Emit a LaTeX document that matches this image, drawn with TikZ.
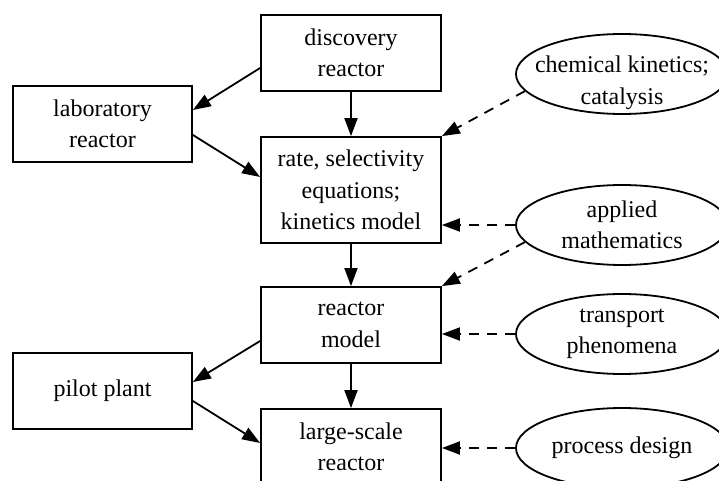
\documentclass[tikz,border=0pt]{standalone}
\usepackage{fontspec}
\setmainfont{Liberation Serif}
\usetikzlibrary{arrows.meta,calc,shapes.geometric}
\begin{document}
\begin{tikzpicture}[x=0.5pt,y=-0.5pt,
  every node/.style={font=\rmfamily\fontsize{12}{15.75}\selectfont, align=center, inner sep=0pt, line width=0.9pt},
  box/.style={draw, rectangle, minimum width=90pt},
  oval/.style={draw, ellipse, minimum width=106pt, minimum height=40pt},
  arr/.style={line width=0.9pt, -{Triangle[length=9pt,width=6.5pt]}},
  darr/.style={arr, dash pattern=on 5pt off 4pt}]
\useasboundingbox (0,0) rectangle (719,481);
\clip (0,0) rectangle (719,481);
\node[box, minimum height=38pt] (disc) at (351,53) {discovery\\reactor};
\node[box, minimum height=38pt, minimum width=89.5pt] (lab) at (102.5,124) {laboratory\\reactor};
\node[box, minimum height=53pt] (rate) at (351,190) {rate, selectivity\\equations;\\kinetics model};
\node[box, minimum height=38pt] (model) at (351,325) {reactor\\model};
\node[box, minimum height=38pt, minimum width=89.5pt] (pilot) at (102.5,391) {pilot plant};
\node[box, minimum height=38pt] (large) at (351,447) {large-scale\\reactor};
\node[oval, inner xsep=-7pt, inner ysep=-6pt] (chem) at (622,74) {\rule{0pt}{17pt}chemical kinetics;\\catalysis};
\node[oval] (appl) at (622,225) {applied\\mathematics};
\node[oval] (trans) at (622,334) {transport\\phenomena};
\node[oval] (proc) at (622,448) {process design};
\draw[arr] ($(disc.west)+(0,15)$) -- ($(lab.east)+(0,-14)$);
\draw[arr] (disc.south) -- (rate.north);
\draw[arr] ($(lab.east)+(0,11)$) -- ($(rate.west)+(0,-13)$);
\draw[darr] (chem.190) -- (rate.north east);
\draw[darr] (appl.west) -- (rate.east |- appl.west);
\draw[darr] (appl.190) -- (model.north east);
\draw[arr] (rate.south) -- (model.north);
\draw[arr] ($(model.west)+(0,16)$) -- ($(pilot.east)+(0,-9)$);
\draw[arr] (model.south) -- (large.north);
\draw[arr] ($(pilot.east)+(0,10)$) -- ($(large.west)+(0,-4)$);
\draw[darr] (trans.west) -- (model.east |- trans.west);
\draw[darr] (proc.west) -- (large.east |- proc.west);
\end{tikzpicture}
\end{document}
